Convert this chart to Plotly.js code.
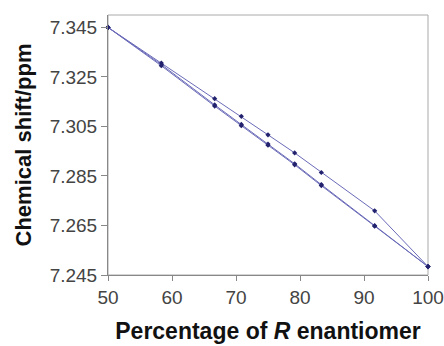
<!DOCTYPE html>
<html>
<head>
<meta charset="utf-8">
<script src="https://cdn.plot.ly/plotly-3.0.1.min.js"></script>
<style>html,body{margin:0;padding:0;background:#fff;}#chart{width:444px;height:346px;}</style>
</head>
<body>
<div id="chart"></div>
<script>
const percentR = [50, 58.33, 66.67, 70.83, 75, 79.17, 83.33, 91.67, 100];
const seriesUpper = [7.345, 7.3306, 7.3162, 7.3091, 7.3016, 7.2943, 7.2864, 7.2709, 7.2484];
const seriesMiddle = [7.345, 7.3300, 7.3137, 7.3058, 7.2979, 7.2899, 7.2815, 7.2649, 7.2484];
const seriesLower = [7.345, 7.3295, 7.3132, 7.3053, 7.2974, 7.2895, 7.2811, 7.2647, 7.2484];
const yTicks = [7.245, 7.265, 7.285, 7.305, 7.325, 7.345];
const xTicks = [50, 60, 70, 80, 90, 100];

const lineStyle = {color: '#6a6ab8', width: 1};
const markerStyle = {color: '#22226e', size: 4, symbol: 'diamond'};
const traces = [seriesUpper, seriesMiddle, seriesLower].map(ys => ({
  x: percentR, y: ys, type: 'scatter', mode: 'lines+markers',
  line: lineStyle, marker: markerStyle, cliponaxis: false, hoverinfo: 'none'
}));

const layout = {
  width: 444, height: 346,
  margin: {l: 108, r: 16, t: 15, b: 71},
  paper_bgcolor: '#fff', plot_bgcolor: '#fff',
  showlegend: false,
  font: {family: 'Liberation Sans, Arial, sans-serif', color: '#333'},
  xaxis: {
    range: [50, 100], tickvals: xTicks, ticktext: xTicks.map(String),
    showgrid: false, zeroline: false,
    showline: true, linecolor: '#888', linewidth: 1,
    ticks: 'outside', ticklen: 5, tickcolor: '#888',
    tickfont: {size: 19, color: '#444'},
    title: {text: '<b>Percentage of <i>R</i> enantiomer</b>', font: {size: 23, color: '#111'}, standoff: 16}
  },
  yaxis: {
    range: [7.245, 7.35], tickvals: yTicks, ticktext: yTicks.map(v => v.toFixed(3)),
    showgrid: false, zeroline: false,
    showline: true, linecolor: '#888', linewidth: 1,
    ticks: 'outside', ticklen: 6, tickcolor: '#888',
    tickfont: {size: 19, color: '#444'},
    title: {text: '<b>Chemical shift/ppm</b>', font: {size: 22, color: '#111'}, standoff: 11}
  },
  shapes: [{type: 'rect', xref: 'paper', yref: 'paper', x0: 0, x1: 1, y0: 0, y1: 1,
    line: {color: '#aaa', width: 1}, layer: 'below'}]
};
Plotly.newPlot('chart', traces, layout, {displayModeBar: false, staticPlot: true});
</script>
</body>
</html>
